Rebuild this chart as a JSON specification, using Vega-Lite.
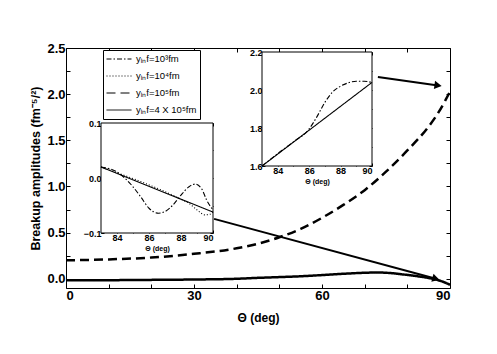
{
  "$schema": "https://vega.github.io/schema/vega-lite/v6.json",
  "width": 384,
  "height": 240,
  "autosize": {"type": "none"},
  "padding": {"left": 66, "top": 48, "right": 47, "bottom": 66},
  "config": {
    "view": {"stroke": "#000", "strokeWidth": 1},
    "font": "Liberation Sans",
    "axis": {"grid": false, "domain": false, "tickColor": "#000", "labelColor": "#000", "titleColor": "#000", "labelFont": "Liberation Sans", "titleFont": "Liberation Sans", "labelFontWeight": "bold", "titleFontWeight": "bold", "zindex": 1},
    "legend": {"orient": "none", "legendX": 37, "legendY": 2, "strokeColor": "#000", "fillColor": "white", "padding": 3, "rowPadding": 5, "clipHeight": 12, "symbolType": "stroke", "symbolStrokeWidth": 1, "symbolStrokeColor": "#000", "symbolSize": 625, "labelFontSize": 9.5, "labelFont": "Liberation Sans", "labelColor": "#000", "labelOffset": 4}
  },
  "datasets": {
    "main": [
      {"theta": 0, "amp": 0.20, "series": "yᵢₙf=10⁵fm"},
      {"theta": 10, "amp": 0.21, "series": "yᵢₙf=10⁵fm"},
      {"theta": 20, "amp": 0.23, "series": "yᵢₙf=10⁵fm"},
      {"theta": 30, "amp": 0.27, "series": "yᵢₙf=10⁵fm"},
      {"theta": 40, "amp": 0.33, "series": "yᵢₙf=10⁵fm"},
      {"theta": 45, "amp": 0.38, "series": "yᵢₙf=10⁵fm"},
      {"theta": 50, "amp": 0.45, "series": "yᵢₙf=10⁵fm"},
      {"theta": 55, "amp": 0.54, "series": "yᵢₙf=10⁵fm"},
      {"theta": 60, "amp": 0.66, "series": "yᵢₙf=10⁵fm"},
      {"theta": 65, "amp": 0.80, "series": "yᵢₙf=10⁵fm"},
      {"theta": 70, "amp": 0.96, "series": "yᵢₙf=10⁵fm"},
      {"theta": 75, "amp": 1.16, "series": "yᵢₙf=10⁵fm"},
      {"theta": 80, "amp": 1.39, "series": "yᵢₙf=10⁵fm"},
      {"theta": 85, "amp": 1.65, "series": "yᵢₙf=10⁵fm"},
      {"theta": 87, "amp": 1.78, "series": "yᵢₙf=10⁵fm"},
      {"theta": 89, "amp": 1.94, "series": "yᵢₙf=10⁵fm"},
      {"theta": 90, "amp": 2.03, "series": "yᵢₙf=10⁵fm"},
      {"theta": 0, "amp": -0.015, "series": "yᵢₙf=4 X 10⁵fm"},
      {"theta": 10, "amp": -0.015, "series": "yᵢₙf=4 X 10⁵fm"},
      {"theta": 20, "amp": -0.012, "series": "yᵢₙf=4 X 10⁵fm"},
      {"theta": 30, "amp": -0.008, "series": "yᵢₙf=4 X 10⁵fm"},
      {"theta": 40, "amp": 0.0, "series": "yᵢₙf=4 X 10⁵fm"},
      {"theta": 45, "amp": 0.01, "series": "yᵢₙf=4 X 10⁵fm"},
      {"theta": 50, "amp": 0.018, "series": "yᵢₙf=4 X 10⁵fm"},
      {"theta": 55, "amp": 0.027, "series": "yᵢₙf=4 X 10⁵fm"},
      {"theta": 60, "amp": 0.04, "series": "yᵢₙf=4 X 10⁵fm"},
      {"theta": 65, "amp": 0.054, "series": "yᵢₙf=4 X 10⁵fm"},
      {"theta": 70, "amp": 0.065, "series": "yᵢₙf=4 X 10⁵fm"},
      {"theta": 73, "amp": 0.068, "series": "yᵢₙf=4 X 10⁵fm"},
      {"theta": 76, "amp": 0.062, "series": "yᵢₙf=4 X 10⁵fm"},
      {"theta": 79, "amp": 0.047, "series": "yᵢₙf=4 X 10⁵fm"},
      {"theta": 82, "amp": 0.03, "series": "yᵢₙf=4 X 10⁵fm"},
      {"theta": 85, "amp": 0.008, "series": "yᵢₙf=4 X 10⁵fm"},
      {"theta": 87, "amp": -0.012, "series": "yᵢₙf=4 X 10⁵fm"},
      {"theta": 88.5, "amp": -0.035, "series": "yᵢₙf=4 X 10⁵fm"},
      {"theta": 90, "amp": -0.065, "series": "yᵢₙf=4 X 10⁵fm"}
    ],
    "arrows": [
      {"id": 1, "x0": 73.1, "y0": 2.186, "x1": 87.2, "y1": 2.094},
      {"id": 2, "x0": 34.7, "y0": 0.649, "x1": 86.7, "y1": 0.0}
    ],
    "frame1": [{"x0": 83, "x1": 90, "y0": -0.1, "y1": 0.1}],
    "frame2": [{"x0": 83, "x1": 90, "y0": 1.6, "y1": 2.2}],
    "inset1": [
      {"theta": 83, "amp": 0.02, "series": "yᵢₙf=4 X 10⁵fm"},
      {"theta": 90, "amp": -0.062, "series": "yᵢₙf=4 X 10⁵fm"},
      {"theta": 83, "amp": 0.02, "series": "yᵢₙf=10³fm"},
      {"theta": 84, "amp": 0.011, "series": "yᵢₙf=10³fm"},
      {"theta": 85, "amp": -0.016, "series": "yᵢₙf=10³fm"},
      {"theta": 85.5, "amp": -0.035, "series": "yᵢₙf=10³fm"},
      {"theta": 86, "amp": -0.055, "series": "yᵢₙf=10³fm"},
      {"theta": 86.6, "amp": -0.064, "series": "yᵢₙf=10³fm"},
      {"theta": 87, "amp": -0.061, "series": "yᵢₙf=10³fm"},
      {"theta": 87.5, "amp": -0.049, "series": "yᵢₙf=10³fm"},
      {"theta": 88, "amp": -0.031, "series": "yᵢₙf=10³fm"},
      {"theta": 88.5, "amp": -0.016, "series": "yᵢₙf=10³fm"},
      {"theta": 88.9, "amp": -0.011, "series": "yᵢₙf=10³fm"},
      {"theta": 89.3, "amp": -0.02, "series": "yᵢₙf=10³fm"},
      {"theta": 89.6, "amp": -0.04, "series": "yᵢₙf=10³fm"},
      {"theta": 90, "amp": -0.058, "series": "yᵢₙf=10³fm"},
      {"theta": 83, "amp": 0.02, "series": "yᵢₙf=10⁴fm"},
      {"theta": 88, "amp": -0.0386, "series": "yᵢₙf=10⁴fm"},
      {"theta": 88.5, "amp": -0.046, "series": "yᵢₙf=10⁴fm"},
      {"theta": 89, "amp": -0.058, "series": "yᵢₙf=10⁴fm"},
      {"theta": 89.5, "amp": -0.067, "series": "yᵢₙf=10⁴fm"},
      {"theta": 89.8, "amp": -0.066, "series": "yᵢₙf=10⁴fm"},
      {"theta": 90, "amp": -0.062, "series": "yᵢₙf=10⁴fm"}
    ],
    "inset2": [
      {"theta": 83, "amp": 1.6, "series": "yᵢₙf=4 X 10⁵fm"},
      {"theta": 90, "amp": 2.04, "series": "yᵢₙf=4 X 10⁵fm"},
      {"theta": 83, "amp": 1.6, "series": "yᵢₙf=10³fm"},
      {"theta": 84, "amp": 1.665, "series": "yᵢₙf=10³fm"},
      {"theta": 85, "amp": 1.727, "series": "yᵢₙf=10³fm"},
      {"theta": 86, "amp": 1.795, "series": "yᵢₙf=10³fm"},
      {"theta": 86.5, "amp": 1.86, "series": "yᵢₙf=10³fm"},
      {"theta": 87, "amp": 1.935, "series": "yᵢₙf=10³fm"},
      {"theta": 87.5, "amp": 1.99, "series": "yᵢₙf=10³fm"},
      {"theta": 88, "amp": 2.02, "series": "yᵢₙf=10³fm"},
      {"theta": 88.5, "amp": 2.038, "series": "yᵢₙf=10³fm"},
      {"theta": 89, "amp": 2.046, "series": "yᵢₙf=10³fm"},
      {"theta": 89.5, "amp": 2.046, "series": "yᵢₙf=10³fm"},
      {"theta": 90, "amp": 2.04, "series": "yᵢₙf=10³fm"}
    ]
  },
  "resolve": {"scale": {"x": "independent", "y": "independent"}},
  "layer": [
    {
      "resolve": {"axis": {"x": "independent", "y": "independent"}},
      "layer": [
        {
          "data": {"name": "main"},
          "mark": {"type": "line", "strokeWidth": 2.5, "color": "#000", "interpolate": "monotone"},
          "encoding": {
            "x": {"field": "theta", "type": "quantitative", "scale": {"domain": [0, 90], "nice": false, "zero": false},
              "axis": {"orient": "bottom", "title": "Θ (deg)", "values": [0, 10, 20, 30, 40, 50, 60, 70, 80, 90], "labelExpr": "datum.value % 30 === 0 ? datum.label : ''", "tickSize": -4, "labelPadding": 5, "labelFontSize": 13, "titleFontSize": 12, "titlePadding": 10}},
            "y": {"field": "amp", "type": "quantitative", "scale": {"domain": [-0.1, 2.5], "nice": false, "zero": false},
              "axis": {"orient": "left", "title": "Breakup amplitudes (fm⁻⁵/²)", "values": [0, 0.25, 0.5, 0.75, 1, 1.25, 1.5, 1.75, 2, 2.25, 2.5], "labelExpr": "abs(datum.value*2 - round(datum.value*2)) < 0.001 ? format(datum.value, '.1f') : ''", "tickSize": -4, "labelPadding": 5, "labelFontSize": 13, "titleFontSize": 12.5, "titlePadding": 4}},
            "strokeDash": {"field": "series", "type": "nominal",
              "scale": {"domain": ["yᵢₙf=10³fm", "yᵢₙf=10⁴fm", "yᵢₙf=10⁵fm", "yᵢₙf=4 X 10⁵fm"], "range": [[5, 2, 1.5, 2], [1, 2], [9, 5], [1, 0]]},
              "legend": {"title": null}}
          }
        },
        {
          "data": {"name": "arrows"},
          "mark": {"type": "rule", "strokeWidth": 2, "color": "#000"},
          "encoding": {
            "x": {"field": "x0", "type": "quantitative", "axis": {"orient": "top", "title": null, "labels": false, "values": [0, 10, 20, 30, 40, 50, 60, 70, 80, 90], "tickSize": -4}},
            "y": {"field": "y0", "type": "quantitative", "axis": {"orient": "right", "title": null, "labels": false, "values": [0, 0.25, 0.5, 0.75, 1, 1.25, 1.5, 1.75, 2, 2.25, 2.5], "tickSize": -4}},
            "x2": {"field": "x1"},
            "y2": {"field": "y1"}
          }
        },
        {
          "data": {"name": "arrows"},
          "transform": [{"filter": "datum.id === 1"}],
          "mark": {"type": "point", "shape": "triangle-right", "filled": true, "color": "#000", "opacity": 1, "size": 70, "angle": 8},
          "encoding": {
            "x": {"field": "x1", "type": "quantitative", "axis": null},
            "y": {"field": "y1", "type": "quantitative", "axis": null}
          }
        },
        {
          "data": {"name": "arrows"},
          "transform": [{"filter": "datum.id === 2"}],
          "mark": {"type": "point", "shape": "triangle-right", "filled": true, "color": "#000", "opacity": 1, "size": 70, "angle": 15},
          "encoding": {
            "x": {"field": "x1", "type": "quantitative", "axis": null},
            "y": {"field": "y1", "type": "quantitative", "axis": null}
          }
        }
      ]
    },
    {
      "resolve": {"axis": {"x": "independent", "y": "independent"}},
      "layer": [
        {
          "data": {"name": "frame1"},
          "mark": {"type": "rect", "fill": "white", "stroke": "#000", "strokeWidth": 1},
          "encoding": {
            "x": {"field": "x0", "type": "quantitative", "scale": {"domain": [83, 90], "range": [35, 147], "nice": false, "zero": false},
              "axis": {"orient": "bottom", "offset": -55, "values": [83, 84, 85, 86, 87, 88, 89, 90], "labelExpr": "datum.value % 2 === 0 ? datum.label : ''", "tickSize": -3, "labelPadding": 3, "labelFontSize": 9, "title": "Θ (deg)", "titleFontSize": 7, "titlePadding": 2}},
            "x2": {"field": "x1"},
            "y": {"field": "y0", "type": "quantitative", "scale": {"domain": [-0.1, 0.1], "range": [185, 75], "nice": false, "zero": false},
              "axis": {"orient": "left", "offset": -35, "values": [-0.1, -0.05, 0, 0.05, 0.1], "labelExpr": "abs(datum.value) < 0.001 || abs(abs(datum.value) - 0.1) < 0.001 ? format(datum.value, '.1f') : ''", "tickSize": -3, "labelPadding": 3, "labelFontSize": 9, "title": null}},
            "y2": {"field": "y1"}
          }
        },
        {
          "data": {"name": "inset1"},
          "mark": {"type": "line", "strokeWidth": 1.1, "color": "#000", "interpolate": "monotone"},
          "encoding": {
            "x": {"field": "theta", "type": "quantitative", "axis": {"orient": "top", "offset": -75, "values": [83, 84, 85, 86, 87, 88, 89, 90], "labels": false, "tickSize": -3, "title": null}},
            "y": {"field": "amp", "type": "quantitative", "axis": {"orient": "right", "offset": -237, "values": [-0.1, -0.05, 0, 0.05, 0.1], "labels": false, "tickSize": -3, "title": null}},
            "strokeDash": {"field": "series", "type": "nominal",
              "scale": {"domain": ["yᵢₙf=10³fm", "yᵢₙf=10⁴fm", "yᵢₙf=10⁵fm", "yᵢₙf=4 X 10⁵fm"], "range": [[5, 2, 1.5, 2], [1, 2], [9, 5], [1, 0]]}}
          }
        }
      ]
    },
    {
      "resolve": {"axis": {"x": "independent", "y": "independent"}},
      "layer": [
        {
          "data": {"name": "frame2"},
          "mark": {"type": "rect", "fill": "white", "stroke": "#000", "strokeWidth": 1},
          "encoding": {
            "x": {"field": "x0", "type": "quantitative", "scale": {"domain": [83, 90], "range": [196, 306], "nice": false, "zero": false},
              "axis": {"orient": "bottom", "offset": -122, "values": [83, 84, 85, 86, 87, 88, 89, 90], "labelExpr": "datum.value % 2 === 0 ? datum.label : ''", "tickSize": -3, "labelPadding": 3, "labelFontSize": 9, "title": "Θ (deg)", "titleFontSize": 7, "titlePadding": 2}},
            "x2": {"field": "x1"},
            "y": {"field": "y0", "type": "quantitative", "scale": {"domain": [1.6, 2.2], "range": [118, 4], "nice": false, "zero": false},
              "axis": {"orient": "left", "offset": -196, "values": [1.6, 1.7, 1.8, 1.9, 2.0, 2.1, 2.2], "labelExpr": "abs(datum.value*5 - round(datum.value*5)) < 0.001 ? format(datum.value, '.1f') : ''", "tickSize": -3, "labelPadding": 3, "labelFontSize": 9, "title": null}},
            "y2": {"field": "y1"}
          }
        },
        {
          "data": {"name": "inset2"},
          "mark": {"type": "line", "strokeWidth": 1.1, "color": "#000", "interpolate": "monotone"},
          "encoding": {
            "x": {"field": "theta", "type": "quantitative", "axis": {"orient": "top", "offset": -4, "values": [83, 84, 85, 86, 87, 88, 89, 90], "labels": false, "tickSize": -3, "title": null}},
            "y": {"field": "amp", "type": "quantitative", "axis": {"orient": "right", "offset": -78, "values": [1.6, 1.7, 1.8, 1.9, 2.0, 2.1, 2.2], "labels": false, "tickSize": -3, "title": null}},
            "strokeDash": {"field": "series", "type": "nominal",
              "scale": {"domain": ["yᵢₙf=10³fm", "yᵢₙf=10⁴fm", "yᵢₙf=10⁵fm", "yᵢₙf=4 X 10⁵fm"], "range": [[5, 2, 1.5, 2], [1, 2], [9, 5], [1, 0]]}}
          }
        }
      ]
    }
  ]
}
